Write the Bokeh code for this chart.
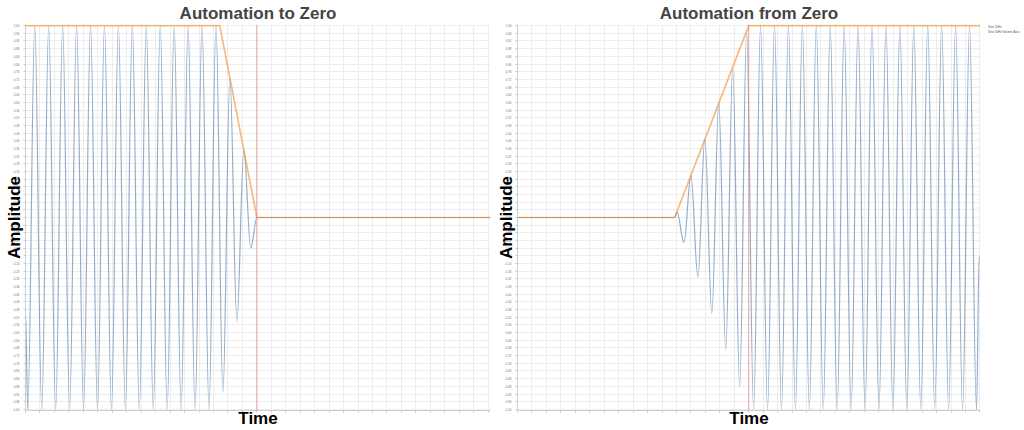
import numpy as np
from bokeh.plotting import figure
from bokeh.models import (Range1d, SingleIntervalTicker, NumeralTickFormatter, Span,
                          Legend, LegendItem, ColumnDataSource, CustomJSTickFormatter)
from bokeh.layouts import row
from bokeh.embed import file_html
from bokeh.resources import INLINE

# ---------------- data ----------------
titles = ["Automation to Zero", "Automation from Zero"]
x_label = "Time"
y_label = "Amplitude"
legend_title = "Na"
legend_labels = ["Sine 1kHz", "Sine 1kHz Volume Auto"]

# Panel 1: automation to zero  (signal extrema: time, amplitude)
to_zero_x_end = 32.16
to_zero_sig_t = [0.0, 0.159, 0.641, 1.123, 1.605, 2.087, 2.569, 3.051, 3.533, 4.015,
                 4.497, 4.979, 5.461, 5.943, 6.425, 6.907, 7.389, 7.871, 8.353, 8.835,
                 9.317, 9.799, 10.281, 10.763, 11.245, 11.727, 12.209, 12.691, 13.173,
                 13.655, 14.137, 14.619, 15.101, 15.583, 16.0]
to_zero_sig_v = [-0.49, -1, 1, -1, 1, -1, 1, -1, 1, -1,
                 1, -1, 1, -1, 1, -1, 1, -1, 1, -1,
                 1, -1, 1, -1, 1, -1, 1, -1, 1,
                 -0.91, 0.73, -0.54, 0.35, -0.16, 0.0]
to_zero_flat_t = [16.0, 32.16]
to_zero_flat_v = [0.0, 0.0]
to_zero_env_t = [0.0, 13.437, 16.0, 32.16]
to_zero_env_v = [1.0, 1.0, 0.0, 0.0]
to_zero_marker = 16.0

# Panel 2: automation from zero
from_zero_x_end = 32.04
from_zero_sig_t = [10.878, 11.037, 11.519, 12.001, 12.483, 12.965, 13.447, 13.929, 14.411,
                   14.893, 15.375, 15.857, 16.339, 16.821, 17.303, 17.785, 18.267, 18.749,
                   19.231, 19.713, 20.195, 20.677, 21.159, 21.641, 22.123, 22.605, 23.087,
                   23.569, 24.051, 24.533, 25.015, 25.497, 25.979, 26.461, 26.943, 27.425,
                   27.907, 28.389, 28.871, 29.353, 29.835, 30.317, 30.799, 31.281, 31.763,
                   31.95]
from_zero_sig_v = [0.0, 0.03, -0.13, 0.22, -0.31, 0.41, -0.50, 0.60, -0.69,
                   0.78, -0.88, 0.97, -1, 1, -1, 1, -1, 1,
                   -1, 1, -1, 1, -1, 1, -1, 1, -1,
                   1, -1, 1, -1, 1, -1, 1, -1, 1,
                   -1, 1, -1, 1, -1, 1, -1, 1, -1,
                   -0.2]
from_zero_flat_t = [0.0, 10.878]
from_zero_flat_v = [0.0, 0.0]
from_zero_env_t = [0.0, 10.878, 16.0, 32.04]
from_zero_env_v = [0.0, 0.0, 1.0, 1.0]
from_zero_marker = 16.0

# ---------------- styles ----------------
SIG_COLOR = "#4e79a7"
ENV_COLOR = "#f28e2b"
MARK_COLOR = "#f08080"
FONT = "Liberation Sans"
K = 1 - 2 / np.pi  # cubic control offset for a half-cosine shaped segment


def wave_source(t, v):
    t = np.asarray(t, float)
    v = np.asarray(v, float)
    x0, x1, y0, y1 = t[:-1], t[1:], v[:-1], v[1:]
    dx = x1 - x0
    return ColumnDataSource(dict(x0=x0, y0=y0, x1=x1, y1=y1,
                                 cx0=x0 + K * dx, cy0=y0,
                                 cx1=x1 - K * dx, cy1=y1))


def build(title, x_end, sig_t, sig_v, flat_t, flat_v, env_t, env_v, marker,
          width, border_right):
    p = figure(width=width, height=430, x_range=Range1d(0, x_end),
               y_range=Range1d(-1.006, 1.006), output_backend="svg",
               toolbar_location=None, title=title,
               min_border_left=26, min_border_right=border_right,
               min_border_top=22, min_border_bottom=20)
    p.title.text_font = FONT
    p.title.text_font_size = "17px"
    p.title.text_font_style = "bold"
    p.title.align = "center"
    p.title.standoff = 3
    p.outline_line_color = None
    p.background_fill_color = "white"

    # axes
    p.xaxis.ticker = SingleIntervalTicker(interval=1)
    p.xaxis.formatter = CustomJSTickFormatter(code="return ''")
    p.xaxis.major_label_text_font_size = "1px"
    p.xaxis.major_label_standoff = 0
    p.xaxis.major_tick_out = 2
    p.xaxis.major_tick_in = 0
    p.xaxis.minor_tick_line_color = None
    p.xaxis.axis_label = x_label
    p.xaxis.axis_label_standoff = -6
    p.yaxis.ticker = SingleIntervalTicker(interval=0.04)
    p.yaxis.formatter = NumeralTickFormatter(format="0.00")
    p.yaxis.major_label_text_font_size = "3px"
    p.yaxis.major_label_text_color = "#777777"
    p.yaxis.major_label_standoff = 2
    p.yaxis.major_tick_out = 2
    p.yaxis.major_tick_in = 0
    p.yaxis.minor_tick_line_color = None
    p.yaxis.axis_label = y_label
    p.yaxis.axis_label_standoff = -14
    for ax in (p.xaxis, p.yaxis):
        ax.axis_label_text_font = FONT
        ax.axis_label_text_font_size = "17px"
        ax.axis_label_text_font_style = "bold"
        ax.axis_label_text_color = "black"
        ax.axis_line_color = "#d0d0d0"
        ax.major_tick_line_color = "#c8c8c8"
        ax.major_label_text_font = FONT
    p.xgrid.ticker = SingleIntervalTicker(interval=1)
    p.grid.grid_line_color = "#ededed"
    p.grid.grid_line_width = 1

    # marks
    p.bezier(x0="x0", y0="y0", x1="x1", y1="y1", cx0="cx0", cy0="cy0",
             cx1="cx1", cy1="cy1", source=wave_source(sig_t, sig_v),
             line_color=SIG_COLOR, line_alpha=0.6, line_width=1.2)
    p.line(flat_t, flat_v, line_color=SIG_COLOR, line_alpha=0.6, line_width=1.2)
    p.line(env_t, env_v, line_color=ENV_COLOR, line_alpha=0.6, line_width=1.7)
    p.add_layout(Span(location=marker, dimension="height", line_color=MARK_COLOR,
                      line_alpha=0.7, line_width=1))
    return p


p1 = build(titles[0], to_zero_x_end, to_zero_sig_t, to_zero_sig_v, to_zero_flat_t,
           to_zero_flat_v, to_zero_env_t, to_zero_env_v, to_zero_marker,
           width=492, border_right=1)
p2 = build(titles[1], from_zero_x_end, from_zero_sig_t, from_zero_sig_v, from_zero_flat_t,
           from_zero_flat_v, from_zero_env_t, from_zero_env_v, from_zero_marker,
           width=489, border_right=0)

# legend strip to the right of the second panel
p3 = figure(width=44, height=430, x_range=Range1d(0, 1), y_range=Range1d(0, 1),
            output_backend="svg", toolbar_location=None,
            x_axis_type=None, y_axis_type=None, min_border=0)
p3.grid.visible = False
p3.outline_line_color = None
r_sig = p3.line(x=[], y=[], line_color=SIG_COLOR, line_alpha=0.6, line_width=1.2)
r_env = p3.line(x=[], y=[], line_color=ENV_COLOR, line_alpha=0.6, line_width=1.7)
legend = Legend(items=[LegendItem(label=legend_labels[0], renderers=[r_sig]),
                       LegendItem(label=legend_labels[1], renderers=[r_env])],
                location=(4, 376), title=legend_title,
                title_text_font_size="3px", title_text_font_style="bold",
                title_text_font=FONT, title_standoff=2,
                label_text_font=FONT, label_text_font_size="3px",
                label_text_color="#555555", label_width=10,
                label_height=3, glyph_height=3, glyph_width=3,
                label_standoff=1, spacing=1, padding=2, margin=0,
                border_line_color=None, background_fill_alpha=0)
p3.add_layout(legend)

layout = row(p1, p2, p3, styles={"margin-left": "-1px"})
open("out.html", "w").write(file_html(layout, INLINE))
